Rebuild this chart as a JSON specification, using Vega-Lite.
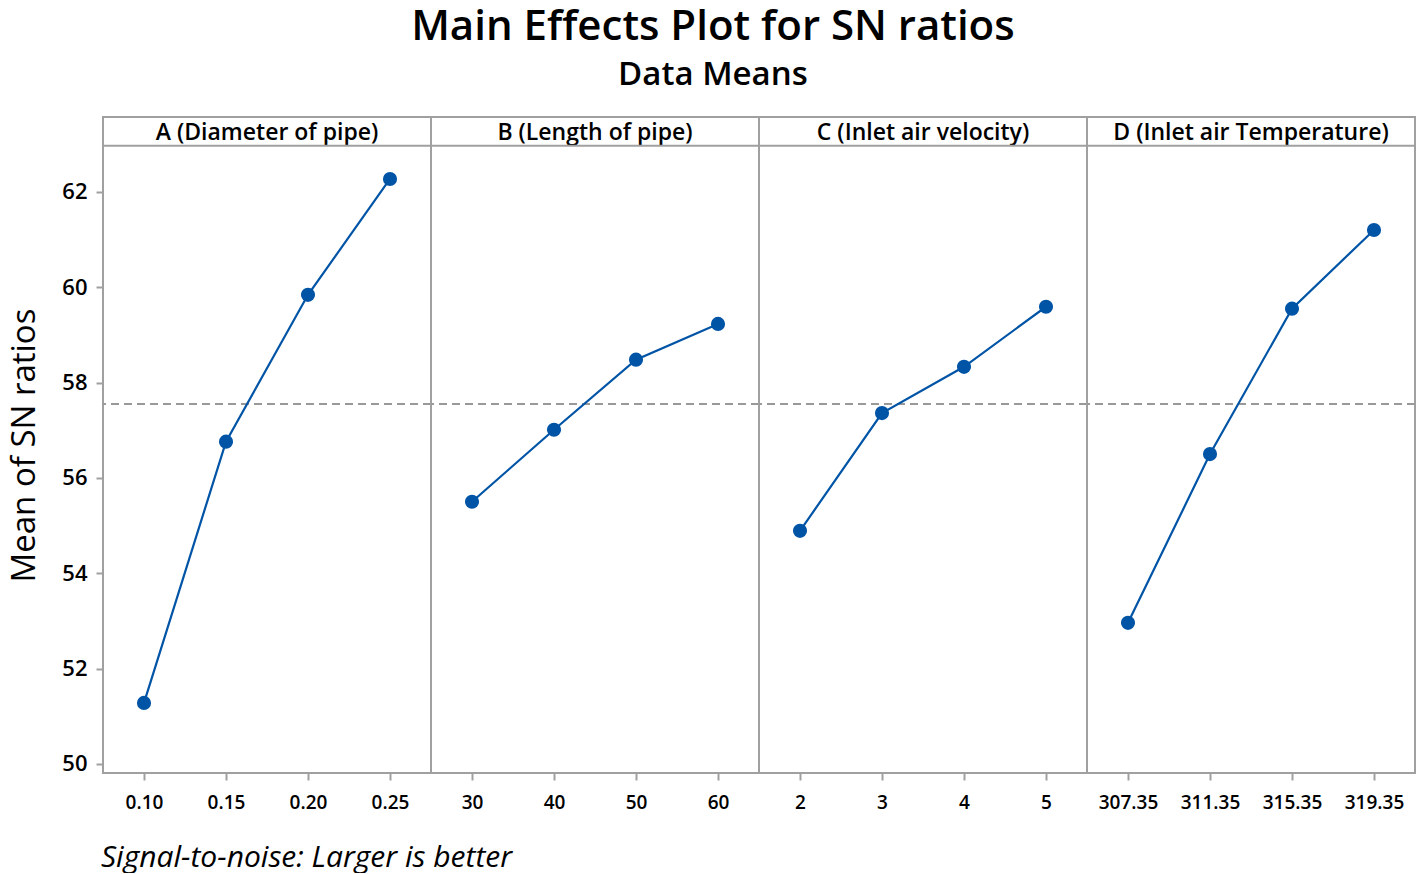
{
  "$schema": "https://vega.github.io/schema/vega-lite/v6.json",
  "background": "white",
  "padding": {"left": 8, "top": 6, "right": 5, "bottom": 0},
  "bounds": "flush",
  "config": {
    "font": "Open Sans",
    "view": {"stroke": "#a0a0a0", "strokeWidth": 2},
    "axis": {"grid": false, "domain": false, "tickColor": "#a0a0a0", "tickWidth": 2, "tickSize": 7, "labelColor": "#000", "labelFont": "Open Sans", "labelFontWeight": 600}
  },
  "title": {
    "text": "Main Effects Plot for SN ratios",
    "subtitle": "Data Means",
    "fontSize": 42, "fontWeight": 600, "color": "#000",
    "subtitleFontSize": 33, "subtitleFontWeight": 600, "subtitleColor": "#000",
    "subtitlePadding": 10, "anchor": "middle", "offset": 23
  },
  "data": {"values": [
    {"factor": "A (Diameter of pipe)", "level": "0.10", "sn": 51.28},
    {"factor": "A (Diameter of pipe)", "level": "0.15", "sn": 56.76},
    {"factor": "A (Diameter of pipe)", "level": "0.20", "sn": 59.84},
    {"factor": "A (Diameter of pipe)", "level": "0.25", "sn": 62.27},
    {"factor": "B (Length of pipe)", "level": "30", "sn": 55.50},
    {"factor": "B (Length of pipe)", "level": "40", "sn": 57.01},
    {"factor": "B (Length of pipe)", "level": "50", "sn": 58.48},
    {"factor": "B (Length of pipe)", "level": "60", "sn": 59.23},
    {"factor": "C (Inlet air velocity)", "level": "2", "sn": 54.89},
    {"factor": "C (Inlet air velocity)", "level": "3", "sn": 57.36},
    {"factor": "C (Inlet air velocity)", "level": "4", "sn": 58.33},
    {"factor": "C (Inlet air velocity)", "level": "5", "sn": 59.59},
    {"factor": "D (Inlet air Temperature)", "level": "307.35", "sn": 52.96},
    {"factor": "D (Inlet air Temperature)", "level": "311.35", "sn": 56.50},
    {"factor": "D (Inlet air Temperature)", "level": "315.35", "sn": 59.55},
    {"factor": "D (Inlet air Temperature)", "level": "319.35", "sn": 61.20}
  ]},
  "facet": {
    "column": {
      "field": "factor", "type": "nominal",
      "header": {
        "title": "Signal-to-noise: Larger is better",
        "titleOrient": "bottom", "titleAnchor": "start", "titleAlign": "left",
        "titleFontSize": 30, "titleFontStyle": "italic", "titleFontWeight": "normal", "titleColor": "#000", "titlePadding": 60,
        "labelOrient": "top", "labelFontSize": 23, "labelFontWeight": 600, "labelColor": "#000",
        "labelBaseline": "bottom", "labelPadding": -51
      }
    }
  },
  "spacing": 0,
  "resolve": {"scale": {"x": "independent"}},
  "spec": {
    "width": 328,
    "height": 656,
    "layer": [
      {
        "data": {"values": [{"hdr": 62.965}]},
        "mark": {"type": "rule", "color": "#a0a0a0", "strokeWidth": 2},
        "encoding": {"y": {"field": "hdr", "type": "quantitative"}}
      },
      {
        "data": {"values": [{"mean": 57.55}]},
        "mark": {"type": "rule", "color": "#999999", "strokeWidth": 2, "strokeDash": [8, 5]},
        "encoding": {"y": {"field": "mean", "type": "quantitative"}}
      },
      {
        "mark": {"type": "line", "color": "#0054A6", "strokeWidth": 2.2},
        "encoding": {
          "x": {"field": "level", "type": "ordinal", "sort": null, "scale": {"type": "point", "padding": 0.5},
                "axis": {"title": null, "labelAngle": 0, "labelFontSize": 19, "labelPadding": 13}},
          "y": {"field": "sn", "type": "quantitative",
                "scale": {"domain": [49.81, 63.57], "nice": false, "zero": false},
                "axis": {"title": "Mean of SN ratios", "titleFontSize": 33, "titleFontWeight": "normal", "titleColor": "#000", "titlePadding": 20,
                         "values": [50, 52, 54, 56, 58, 60, 62], "labelFontSize": 22, "labelPadding": 9}}
        }
      },
      {
        "mark": {"type": "point", "filled": true, "color": "#0054A6", "size": 200, "opacity": 1},
        "encoding": {
          "x": {"field": "level", "type": "ordinal", "sort": null},
          "y": {"field": "sn", "type": "quantitative"}
        }
      }
    ]
  }
}
